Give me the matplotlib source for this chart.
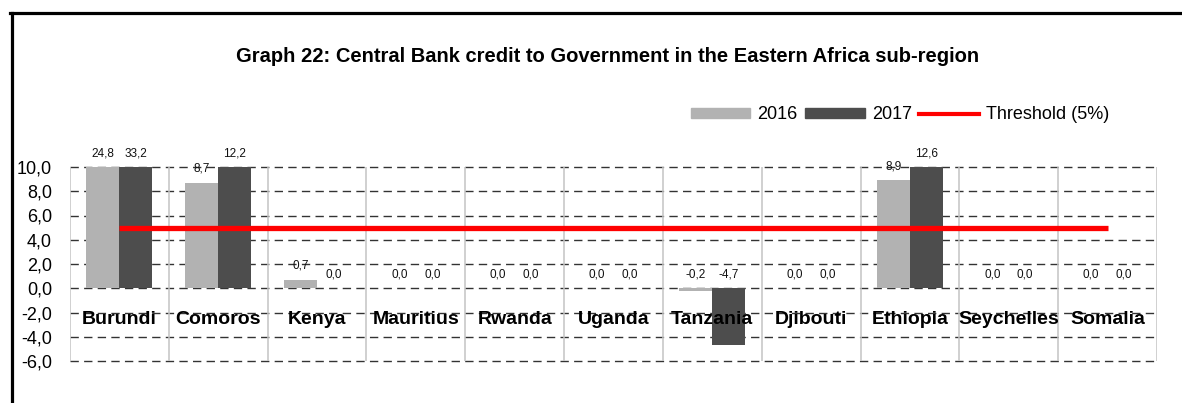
import matplotlib
matplotlib.use("Agg")
import matplotlib.pyplot as plt
from matplotlib.lines import Line2D
from matplotlib.patches import Patch
import numpy as np

plt.rcParams['font.family'] = ['Liberation Sans', 'DejaVu Sans']

countries = ["Burundi", "Comoros", "Kenya", "Mauritius", "Rwanda", "Uganda",
             "Tanzania", "Djibouti", "Ethiopia", "Seychelles", "Somalia"]
v2016 = [24.8, 8.7, 0.7, 0.0, 0.0, 0.0, -0.2, 0.0, 8.9, 0.0, 0.0]
v2017 = [33.2, 12.2, 0.0, 0.0, 0.0, 0.0, -4.7, 0.0, 12.6, 0.0, 0.0]
threshold = [5, 5, 5, 5, 5, 5, 5, 5, 5, 5, 5]
yticks = [-6, -4, -2, 0, 2, 4, 6, 8, 10]
title = "Graph 22: Central Bank credit to Government in the Eastern Africa sub-region"

fig = plt.figure(figsize=(11.82, 4.03), dpi=100)
ax = fig.add_axes([70/1182, 1-361/403, (1157-70)/1182, (361-167)/403])

x = np.arange(len(countries))
w = 1/3
c16, c17 = "#b2b2b2", "#4d4d4d"
ax.bar(x - w/2, v2016, width=w, color=c16, zorder=2)
ax.bar(x + w/2, v2017, width=w, color=c17, zorder=2)
ax.plot(x, threshold, color="#ff0000", lw=3.8, zorder=3, solid_capstyle='butt')

ax.set_ylim(-6, 10)
ax.set_xlim(-0.5, len(countries) - 0.5)
ax.set_yticks(yticks)
ax.set_yticklabels([f"{t:.1f}".replace('.', ',') for t in yticks], fontsize=13)
ax.tick_params(axis='y', length=0, pad=13)
ax.set_xticks([])
for s in ax.spines.values():
    s.set_visible(False)

for t in yticks:
    ax.axhline(t, color="#333333", lw=1.0, dashes=(6.0, 3.8), zorder=1, clip_on=False)
for b in np.arange(-0.5, len(countries), 1.0):
    ax.axvline(b, color="#c4c4c4", lw=1.1, zorder=1)

def fmt(v):
    return f"{v:.1f}".replace('.', ',')

for xi, a, b in zip(x, v2016, v2017):
    for xx, v in ((xi - w/2, a), (xi + w/2, b)):
        yy = min(max(v, 0), 10)
        ax.annotate(fmt(v), (xx, yy), xytext=(0, 10), textcoords='offset points',
                    ha='center', va='center', fontsize=8.5, color="#111111",
                    zorder=5, annotation_clip=False)

for xi, c in zip(x, countries):
    ax.text(xi, -2.6, c, ha='center', va='center', fontsize=14,
            fontweight='bold', zorder=6)

fig.text(608/1182, 1-57/403, title, ha='center', va='center', fontsize=14.5,
         fontweight='bold')

handles = [Patch(color=c16, label="2016"), Patch(color=c17, label="2017"),
           Line2D([], [], color="#ff0000", lw=3.0, label="Threshold (5%)")]
fig.legend(handles=handles, loc='center', bbox_to_anchor=(900/1182, 1-115/403),
           ncol=3, frameon=False, fontsize=13, handlelength=3.3, handleheight=0.4,
           handletextpad=0.4, columnspacing=0.4, borderpad=0)

fig.add_artist(Line2D([10/1182, 1], [1-12.5/403, 1-12.5/403], color='black', lw=2.3,
                      transform=fig.transFigure))
fig.add_artist(Line2D([11.5/1182, 11.5/1182], [0, 1-12.5/403], color='black', lw=2.3,
                      transform=fig.transFigure))

fig.savefig("out.png", dpi=100)
